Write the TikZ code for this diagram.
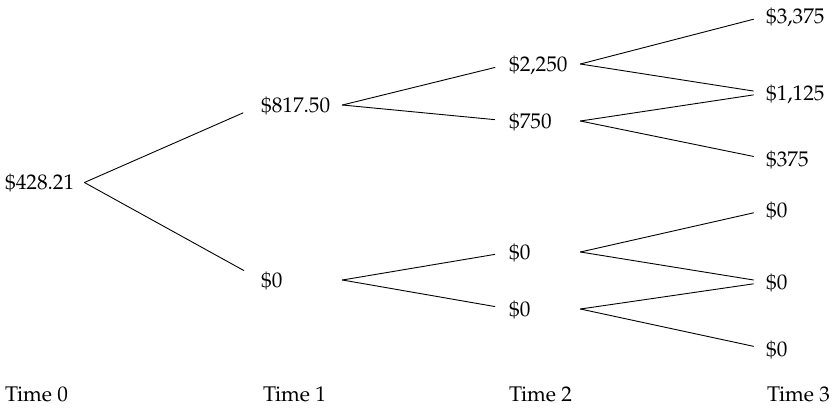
\documentclass[tikz,border=0pt]{standalone}
\usepackage[T1]{fontenc}
\usepackage{mathpazo}
\newcommand\valfont{\fontsize{21.3}{25}\selectfont}
\newcommand\valtext[2]{\smash{\rlap{#2}}\vphantom{0}\hspace*{#1}}
\tikzset{
  val/.style={inner sep=0pt, anchor=west, font=\valfont},
  timelbl/.style={inner sep=0pt, anchor=base west, font=\valfont},
  edge/.style={line width=0.9bp, line cap=round},
  gapA/.style={shorten >=19.6bp},
  gapB/.style={shorten >=14.4bp},
  gapC/.style={shorten >=12.8bp}
}
\begin{document}
\begin{tikzpicture}[x=1bp,y=-1bp]
\useasboundingbox (0,0) rectangle (835,407);
% Time 0
\node[val] (r) at (5,182.5) {\valtext{79bp}{\$428.21}};
% Time 1
\node[val] (u) at (261,105) {\valtext{81bp}{\$817.50}};
\node[val] (d) at (261,280) {\valtext{81bp}{\$0}};
% Time 2
\node[val] (uu) at (509,64) {\valtext{71bp}{\$2,250}};
\node[val] (ud) at (509,121) {\valtext{71bp}{\$750}};
\node[val] (du) at (509,252) {\valtext{71bp}{\$0}};
\node[val] (dd) at (509,309) {\valtext{71bp}{\$0}};
% Time 3
\node[val] (uuu) at (766,16) {\valtext{60bp}{\$3,375}};
\node[val] (uud) at (766,93) {\valtext{60bp}{\$1,125}};
\node[val] (udd) at (766,159) {\valtext{60bp}{\$375}};
\node[val] (duu) at (766,210) {\valtext{60bp}{\$0}};
\node[val] (dud) at (766,282) {\valtext{60bp}{\$0}};
\node[val] (ddd) at (766,349) {\valtext{60bp}{\$0}};
% time labels
\node[timelbl] (t0) at (5,401) {Time 0};
\node[timelbl] (t1) at (263,401) {Time 1};
\node[timelbl] (t2) at (509,401) {Time 2};
\node[timelbl] (t3) at (767,401) {Time 3};
% connectors
\draw[edge,gapA] (r.east) -- (u.west);
\draw[edge,gapA] (r.east) -- (d.west);
\draw[edge,gapB] (u.east) -- (uu.west);
\draw[edge,gapB] (u.east) -- (ud.west);
\draw[edge,gapB] (d.east) -- (du.west);
\draw[edge,gapB] (d.east) -- (dd.west);
\draw[edge,gapC] (uu.east) -- (uuu.west);
\draw[edge,gapC] (uu.east) -- (uud.west);
\draw[edge,gapC] (ud.east) -- (uud.west);
\draw[edge,gapC] (ud.east) -- (udd.west);
\draw[edge,gapC] (du.east) -- (duu.west);
\draw[edge,gapC] (du.east) -- (dud.west);
\draw[edge,gapC] (dd.east) -- (dud.west);
\draw[edge,gapC] (dd.east) -- (ddd.west);
\end{tikzpicture}
\end{document}
